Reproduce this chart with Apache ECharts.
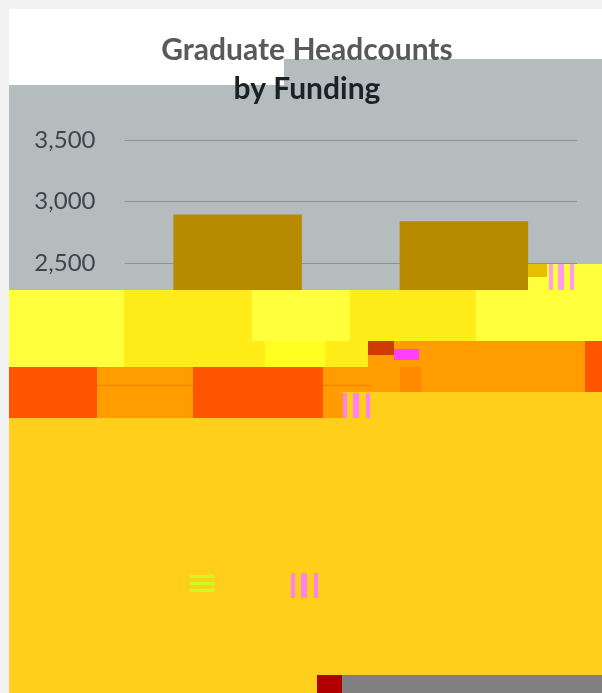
<!DOCTYPE html>
<html>
<head>
<meta charset="utf-8">
<style>html,body{margin:0;padding:0;background:#fff}#c{width:602px;height:693px}</style>
<script src="https://cdn.jsdelivr.net/npm/echarts@6/dist/echarts.min.js"></script>
</head>
<body>
<div id="c"></div>
<script>
// Category names are not legible in the reference (covered by the damaged bands).
var categories = ['Funding 1', 'Funding 2'];
var headcounts = [2895, 2840];
var yTicks = { min: 0, max: 3500, interval: 500 };
var titleLines = ['Graduate Headcounts', 'by Funding'];

// Solid colour blocks of the damaged part of the reference image: [x, y, w, h, colour]
var Y1 = '#ffff3c', Y2 = '#ffec18', OR = '#ff9c00', DK = '#ff5500', GO = '#ffcf1c';
var damageBlocks = [
  [9, 290, 115, 77, Y1], [124, 290, 128, 77, Y2], [252, 290, 98, 51, Y1],
  [350, 290, 126, 51, Y2], [476, 290, 126, 51, Y1],
  [252, 341, 13, 26, Y2], [265, 341, 60, 26, '#ffff20'], [325, 341, 43, 26, Y2],
  [368, 341, 26, 26, OR], [368, 341, 26, 14, '#d03c00'], [394, 341, 191, 26, OR], [394, 349, 25, 11, '#ff40ff'],
  [585, 341, 17, 51, DK],
  [9, 367, 88, 51, DK], [97, 367, 96, 51, OR], [97, 385, 96, 1, '#ff7a00'],
  [193, 367, 130, 51, DK], [323, 367, 262, 25, OR], [323, 385, 47, 1, '#ff7a00'],
  [400, 367, 21, 25, '#ff8a00'], [323, 392, 279, 26, GO], [323, 392, 20, 26, OR],
  [9, 418, 593, 275, GO],
  [528, 264, 74, 26, Y1], [528, 264, 19, 13, '#e6c000'],
  [317, 675, 25, 18, '#b00000'], [342, 675, 260, 18, '#808080'],
  [549, 264, 4, 26, '#ff9cf0'], [558, 264, 6, 26, '#ff9cf0'], [570, 264, 4, 26, '#ff9cf0'],
  [343, 393, 4, 25, '#ff80f0'], [353, 393, 6, 25, '#ff80f0'], [366, 393, 4, 25, '#ff80f0'],
  [291, 573, 4, 25, '#ff80f0'], [301, 573, 6, 25, '#ff80f0'], [314, 573, 4, 25, '#ff80f0'],
  [190, 575, 24, 3, '#c8ff20'], [190, 582, 24, 3, '#c8ff20'], [190, 589, 24, 3, '#c8ff20']
];
// Backdrop panels behind the plot: [x, y, w, h, colour]
var backdrop = [
  [0, 0, 602, 693, '#f2f2f2'], [9, 9, 593, 684, '#ffffff'],
  [9, 85, 593, 205, '#b4bcbe'], [284, 59, 318, 30, '#b4bcbe']
];

function toRect(b, z) {
  return { type: 'rect', silent: true, z: z, shape: { x: b[0], y: b[1], width: b[2], height: b[3] },
           style: { fill: b[4] } };
}

var chart = echarts.init(document.getElementById('c'), null, { renderer: 'canvas' });
chart.setOption({
  animation: false,
  backgroundColor: 'transparent',
  title: {
    text: '{a|' + titleLines[0] + '}\n{b|' + titleLines[1] + '}',
    left: 302, top: 26, textAlign: 'center',
    textStyle: {
      rich: {
        a: { fontFamily: 'Lato', fontWeight: 'bold', fontSize: 30, color: '#595959', lineHeight: 39 },
        b: { fontFamily: 'Lato', fontWeight: 'bold', fontSize: 30, color: '#1a2226', lineHeight: 39 }
      }
    },
    z: 60
  },
  grid: { left: 124.5, right: 25, top: 140, bottom: 122.5 },
  xAxis: {
    type: 'category', data: categories,
    axisLine: { show: false }, axisTick: { show: false }, axisLabel: { show: false }
  },
  yAxis: {
    type: 'value', min: yTicks.min, max: yTicks.max, interval: yTicks.interval,
    axisLine: { show: false }, axisTick: { show: false },
    splitLine: { lineStyle: { color: '#8a9396', width: 1 } },
    axisLabel: {
      margin: 29, fontFamily: 'Lato', fontSize: 24, color: '#3f4548', padding: [3, 0, 0, 0],
      formatter: function (v) { return v.toLocaleString('en-US'); }
    }
  },
  series: [{
    type: 'bar', data: headcounts, barWidth: 128.5,
    itemStyle: { color: '#b88a00' }
  }],
  graphic: backdrop.map(function (b) { return toRect(b, -10); })
    .concat(damageBlocks.map(function (b) { return toRect(b, 50); }))
});
</script>
</body>
</html>
